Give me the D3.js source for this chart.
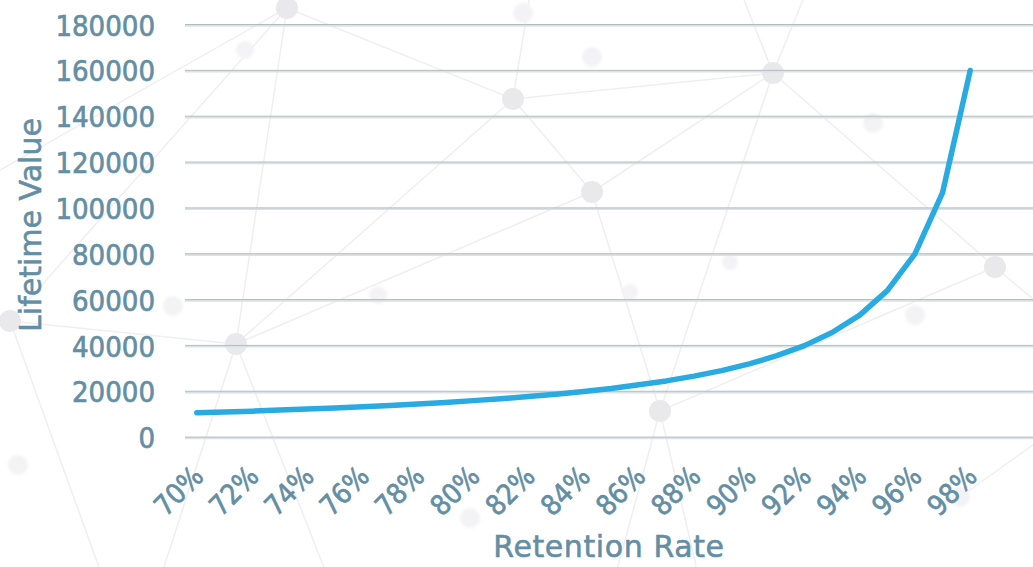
<!DOCTYPE html>
<html>
<head>
<meta charset="utf-8">
<script src="https://cdn.jsdelivr.net/npm/d3@7"></script>
<style>
  html, body { margin: 0; padding: 0; background: #ffffff; }
  svg { display: block; }
  .lbl { font-family: "DejaVu Sans Condensed", "DejaVu Sans", sans-serif; font-stretch: condensed;
         fill: #638ea3; stroke: #638ea3; stroke-width: 0.65px; }
  .ttl { font-family: "DejaVu Sans", sans-serif; fill: #638ea3; stroke: #638ea3; stroke-width: 0.55px; }
</style>
</head>
<body>
<svg id="chart" width="1033" height="567">
  <defs>
    <filter id="soft" x="-50%" y="-50%" width="200%" height="200%">
      <feGaussianBlur stdDeviation="1.6"/>
    </filter>
  </defs>
</svg>
<script>
// Retention rate categories (every whole percent from 70% to 98%)
const retentionRates = ["70%","71%","72%","73%","74%","75%","76%","77%","78%","79%",
  "80%","81%","82%","83%","84%","85%","86%","87%","88%","89%",
  "90%","91%","92%","93%","94%","95%","96%","97%","98%"];
// Customer lifetime value at each retention rate
const lifetimeValues = [10700, 11000, 11400, 11900, 12300, 12800, 13300, 13900, 14500, 15200,
  16000, 16800, 17800, 18800, 20000, 21300, 22900, 24600, 26700, 29100,
  32000, 35600, 40000, 45700, 53300, 64000, 80000, 106700, 160000];
// Y axis ticks and the x labels that are shown
const yTicks = [0, 20000, 40000, 60000, 80000, 100000, 120000, 140000, 160000, 180000];
const xTickLabels = ["70%","72%","74%","76%","78%","80%","82%","84%","86%","88%","90%","92%","94%","96%","98%"];
const xTitle = "Retention Rate";
const yTitle = "Lifetime Value";

// Decorative network backdrop: nodes [x, y, r, strong]
const netNodes = [
  [287, 8, 11, 1], [513, 99, 11, 1], [592, 192, 11, 1], [773, 73, 11, 1],
  [236, 344, 11, 1], [660, 411, 11, 1], [995, 267, 11, 1], [10, 321, 11, 1],
  [523, 13, 10, 0], [592, 57, 10, 0], [873, 123, 10, 0], [915, 315, 10, 0],
  [173, 306, 10, 0], [378, 295, 9, 0], [18, 465, 10, 0], [470, 518, 10, 0],
  [960, 497, 10, 0], [245, 50, 9, 0], [630, 292, 8, 0], [730, 262, 8, 0]
];
const netEdges = [
  [287, 8, 10, 321], [287, 8, 236, 344], [287, 8, 513, 99], [513, 99, 773, 73],
  [513, 99, 592, 192], [513, 99, 236, 344], [513, 99, 530, -5], [592, 192, 236, 344],
  [592, 192, 660, 411], [592, 192, 773, 73], [773, 73, 660, 411], [773, 73, 995, 267],
  [995, 267, 660, 411], [773, 73, 742, -5], [773, 73, 805, -5], [660, 411, 617, 570],
  [660, 411, 697, 570], [995, 267, 1040, 305], [10, 321, 100, 570], [10, 321, 236, 344],
  [236, 344, 163, 570], [236, 344, 325, 570], [960, 497, 1040, 440], [287, 8, 0, 170]
];

const svg = d3.select("#chart");

// Background network
const bg = svg.append("g");
bg.selectAll("line").data(netEdges).join("line")
  .attr("x1", d => d[0]).attr("y1", d => d[1])
  .attr("x2", d => d[2]).attr("y2", d => d[3])
  .attr("stroke", "#efeff1").attr("stroke-width", 1.5);
bg.selectAll("circle").data(netNodes).join("circle")
  .attr("cx", d => d[0]).attr("cy", d => d[1]).attr("r", d => d[2])
  .attr("fill", d => d[3] ? "#e9e9ec" : "#f3f3f5")
  .attr("filter", d => d[3] ? null : "url(#soft)");

// Scales
const x = d3.scalePoint().domain(retentionRates).range([183, 984]).padding(0.5);
const y = d3.scaleLinear().domain([0, 180000]).range([437.3, 24.7]);

// Horizontal gridlines (two-tone)
const grid = svg.append("g");
grid.selectAll("line.g1").data(yTicks).join("line").attr("class", "g1")
  .attr("x1", 185).attr("x2", 1033)
  .attr("y1", d => y(d) + 1).attr("y2", d => y(d) + 1)
  .attr("stroke", "#dbe2e5").attr("stroke-width", 2);
grid.selectAll("line.g2").data(yTicks).join("line").attr("class", "g2")
  .attr("x1", 185).attr("x2", 1033)
  .attr("y1", d => y(d) - 0.2).attr("y2", d => y(d) - 0.2)
  .attr("stroke", "#b3bbbf").attr("stroke-width", 1);

// Y axis labels
const yAxis = d3.axisLeft(y).tickValues(yTicks).tickFormat(d3.format("d")).tickSize(0).tickPadding(0);
const gy = svg.append("g").attr("transform", "translate(155,0)").call(yAxis);
gy.select(".domain").remove();
gy.attr("font-family", null).attr("font-size", null);
gy.selectAll("text").attr("class", "lbl").attr("font-size", 29).attr("dy", "0.36em");

// X axis labels (every other category, rotated)
const xAxis = d3.axisBottom(x).tickValues(xTickLabels).tickSize(0).tickPadding(0);
const gx = svg.append("g").attr("transform", "translate(0,481)").call(xAxis);
gx.select(".domain").remove();
gx.attr("font-family", null).attr("font-size", null);
gx.selectAll("text").attr("class", "lbl").attr("font-size", 28)
  .attr("y", 0).attr("dy", 0).attr("x", 0)
  .attr("text-anchor", "end")
  .attr("transform", "translate(8,-3) rotate(-45)");

// Line
const line = d3.line().x((d, i) => x(retentionRates[i])).y(d => y(d));
svg.append("path").datum(lifetimeValues)
  .attr("d", line).attr("fill", "none")
  .attr("stroke", "#29aae1").attr("stroke-width", 5.5)
  .attr("stroke-linecap", "round").attr("stroke-linejoin", "round");

// Axis titles
svg.append("text").attr("class", "ttl").attr("x", 609).attr("y", 557)
  .attr("text-anchor", "middle").attr("font-size", 30).attr("letter-spacing", 0.6).text(xTitle);
svg.append("text").attr("class", "ttl")
  .attr("transform", "translate(41,225) rotate(-90)")
  .attr("text-anchor", "middle").attr("font-size", 30).text(yTitle);
</script>
</body>
</html>
